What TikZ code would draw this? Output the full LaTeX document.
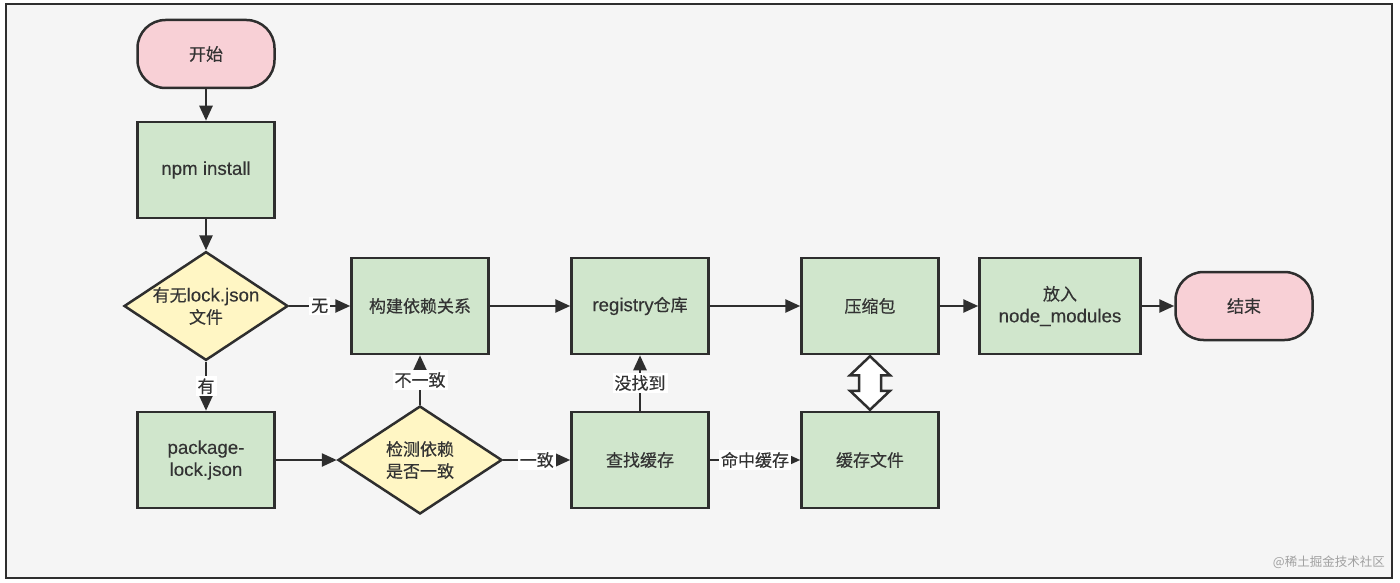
\documentclass[tikz,border=0pt]{standalone}
\usepackage{fontspec}
\setmainfont{Liberation Sans}[Scale=1.1,FakeBold=0.3]
\newfontfamily\cjk{Noto Sans CJK SC}[FakeBold=0.4]
\newfontfamily\cjkwm{Noto Sans CJK SC}
\usetikzlibrary{shapes.geometric,arrows.meta,calc}
\definecolor{bgc}{HTML}{F5F5F5}
\definecolor{stk}{HTML}{2E2E2E}
\definecolor{txt}{HTML}{333333}
\definecolor{gfill}{HTML}{D0E6CC}
\definecolor{yfill}{HTML}{FFF6C4}
\definecolor{pfill}{HTML}{F8D0D6}
\definecolor{wm}{HTML}{A0A0A0}
\begin{document}
\begin{tikzpicture}[x=1pt,y=-1pt,
  base/.style={draw=stk, line width=2.5pt, inner sep=0pt, align=center, text=txt, font=\fontsize{17}{22}\selectfont},
  proc/.style={base, rectangle, fill=gfill, minimum width=137pt, minimum height=96pt},
  term/.style={base, rectangle, rounded corners=28pt, fill=pfill, minimum width=137pt, minimum height=68pt},
  dec/.style={base, diamond, fill=yfill, minimum width=164pt, minimum height=108pt, shape aspect=1.5},
  arr/.style={draw=stk, line width=2.5pt, -{Triangle[length=15pt,width=13pt]}},
  lbl/.style={fill=white, inner sep=2pt, text=txt, font=\fontsize{17}{20}\selectfont\cjk}
]
\useasboundingbox (0,0) rectangle (1400,583);
\fill[white] (0,0) rectangle (1400,583);
\draw[line width=2.5pt, draw=stk, fill=bgc] (6,4) rectangle (1392,578);

\node[term] (start) at (206,54) {\cjk 开始};
\node[proc] (npm) at (206,170) {npm install};
\node[dec] (hasLock) at (206,306) {{\cjk 有无}lock.json\\{\cjk 文件}};
\node[proc] (pkg) at (206,460) {package-\\lock.json};
\node[dec] (check) at (420,460) {\cjk 检测依赖\\\cjk 是否一致};
\node[proc] (build) at (420,306) {\cjk 构建依赖关系};
\node[proc] (reg) at (640,306) {registry{\cjk 仓库}};
\node[proc] (zip) at (870,306) {\cjk 压缩包};
\node[proc, minimum width=161pt] (put) at (1060,306) {{\cjk 放入}\\node\_modules};
\node[term] (end) at (1244,306) {\cjk 结束};
\node[proc] (find) at (640,460) {\cjk 查找缓存};
\node[proc] (cache) at (870,460) {\cjk 缓存文件};

\draw[arr] (start) -- (npm);
\draw[arr] (npm) -- (hasLock);
\draw[arr] (hasLock) -- node[lbl] {无} (build);
\draw[arr] (hasLock) -- node[lbl] {有} (pkg);
\draw[arr] (pkg) -- (check);
\draw[arr] (check) -- node[lbl] {不一致} (build);
\draw[arr] (check) -- node[lbl] {一致} (find);
\draw[arr] (find) -- node[lbl] {没找到} (reg);
\draw[arr] (find) -- node[lbl] {命中缓存} (cache);
\draw[arr] (build) -- (reg);
\draw[arr] (reg) -- (zip);
\draw[arr] (zip) -- (put);
\draw[arr] (put) -- (end);

% hollow double arrow
\coordinate (dt) at ($(zip.south)+(0,1)$);
\coordinate (db) at ($(cache.north)+(0,-1)$);
\draw[draw=stk, line width=2.5pt, fill=white, line join=miter]
  (dt) -- ++(20,19) -- ++(-9,0) |- ($(db)+(11,-19)$) -- ++(9,0) -- (db)
  -- ++(-20,-19) -- ++(9,0) |- ($(dt)+(-11,19)$) -- ++(-9,0) -- cycle;

\node[anchor=east, text=wm, font=\fontsize{12.5}{14}\selectfont\cjkwm, inner sep=0pt] (wmark) at (1385,562) {@稀土掘金技术社区};
\end{tikzpicture}
\end{document}
